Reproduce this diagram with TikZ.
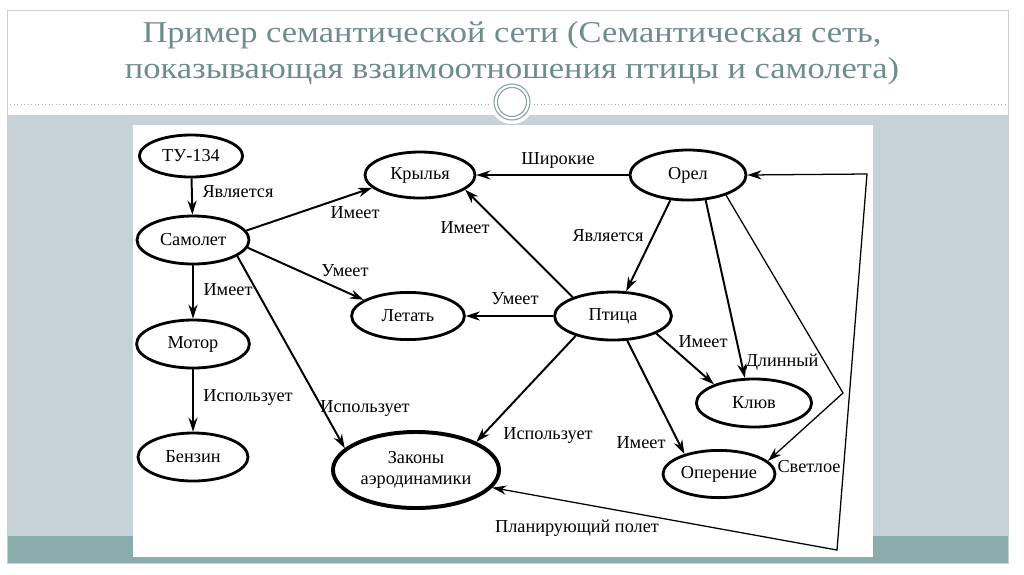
\documentclass[tikz,border=0pt]{standalone}
\usepackage{fontspec}
\setmainfont{Liberation Serif}
\newfontfamily\titlefont[FakeStretch=1.14]{Liberation Serif}
\usetikzlibrary{shapes.geometric}
\usetikzlibrary{arrows.meta}
\definecolor{bandgray}{HTML}{C7D2D8}
\definecolor{bandteal}{HTML}{8BACAC}
\definecolor{titlegray}{HTML}{6F8C8C}
\definecolor{framegray}{HTML}{C9D0D0}

\begin{document}
\begin{tikzpicture}[x=0.025cm, y=-0.025cm,
    >={Stealth[length=10pt,width=6.5pt]},
    concept/.style={ellipse, draw, line width=2pt, inner sep=0pt, align=center,
        font=\fontsize{13}{15}\selectfont},
    rel/.style={->, line width=1.4pt},
    thinrel/.style={line width=0.9pt},
    lbl/.style={inner sep=0pt, font=\fontsize{13}{15}\selectfont},
    headline/.style={anchor=base, text=titlegray, font=\titlefont\fontsize{21.5}{25}\selectfont}]

% slide background
\useasboundingbox (0,0) rectangle (1024,574);
\fill[white] (0,0) rectangle (1024,574);
\fill[bandgray] (7,115) rectangle (1008,536);
\fill[bandteal] (7,536) rectangle (1008,563);
\draw[framegray, line width=0.6pt] (7,10) rectangle (1008,563);
\draw[gray!60, dotted, line width=0.5pt] (10,104) -- (1005,104);
\fill[white] (512,102) circle (22);
\draw[titlegray!80, line width=0.8pt] (512,102) circle (18);
\draw[titlegray!80, line width=0.8pt] (512,102) circle (14.5);
\node[headline] (title1) at (512,42) {Пример семантической сети (Семантическая сеть,};
\node[headline] (title2) at (512,78) {показывающая взаимоотношения птицы и самолета)};
\fill[white] (133,125) rectangle (873,557);

% concepts
\node[concept, minimum width=2.58cm, minimum height=1.05cm] (tu) at (191,156) {ТУ-134};
\node[concept, minimum width=2.8cm, minimum height=1.2cm] (samolet) at (193,240) {Самолет};
\node[concept, minimum width=2.82cm, minimum height=1.2cm] (motor) at (193,344) {Мотор};
\node[concept, minimum width=2.75cm, minimum height=1.2cm] (benzin) at (193,457) {Бензин};
\node[concept, minimum width=2.75cm, minimum height=1.15cm] (krylya) at (420,175) {Крылья};
\node[concept, minimum width=2.82cm, minimum height=1.18cm] (letat) at (408,316) {Летать};
\node[concept, minimum width=4.15cm, minimum height=1.9cm, line width=2.8pt] (zakony) at (416,470) {Законы\\аэродинамики};
\node[concept, minimum width=2.9cm, minimum height=1.25cm] (orel) at (688,175) {Орел};
\node[concept, minimum width=2.92cm, minimum height=1.2cm] (ptica) at (613,316) {Птица};
\node[concept, minimum width=2.88cm, minimum height=1.2cm] (kluv) at (754,403) {Клюв};
\node[concept, minimum width=2.8cm, minimum height=1.18cm] (operenie) at (719,474) {Оперение};

\coordinate (bend) at (843,393);
\coordinate (cornerB) at (837,550);
\coordinate (cornerT) at (867,174);

% relations
\draw[rel] (tu) -- (samolet);
\draw[rel] (samolet) -- (motor);
\draw[rel] (motor) -- (benzin);
\draw[rel] (samolet.10) -- (krylya.195);
\draw[rel] (samolet.-8) -- (letat.160);
\draw[rel] (samolet.-20) -- (zakony.163);
\draw[rel] (orel.west) -- (krylya.east);
\draw[rel] (ptica.155) -- (krylya.-18);
\draw[rel] (orel.235) -- (ptica.62);
\draw[rel] (ptica.west) -- (letat.east);
\draw[rel] (ptica.208) -- (zakony.25);
\draw[rel] (ptica.-22) -- (kluv.155);
\draw[rel] (ptica.-60) -- (operenie.150);
\draw[rel] (orel.-55) -- (kluv.110);
\draw[->, thinrel] (orel.-28) -- (bend) -- (operenie.15);
\draw[<->, thinrel] (zakony.-13) -- (cornerB) -- (cornerT) -- (orel.east);

% relation labels
\node[lbl] (is1) at (238,192) {Является};
\node[lbl] (has1) at (355,213) {Имеет};
\node[lbl] (can1) at (345,271) {Умеет};
\node[lbl] (has2) at (228,290) {Имеет};
\node[lbl] (uses1) at (365,408) {Использует};
\node[lbl] (uses2) at (248,397) {Использует};
\node[lbl] (wide) at (558,160) {Широкие};
\node[lbl] (has3) at (465,228) {Имеет};
\node[lbl] (is2) at (608,236) {Является};
\node[lbl] (can2) at (515,299) {Умеет};
\node[lbl] (uses3) at (548,435) {Использует};
\node[lbl] (has4) at (703,342) {Имеет};
\node[lbl] (long) at (782,362) {Длинный};
\node[lbl] (has5) at (641,443) {Имеет};
\node[lbl] (light) at (809,467) {Светлое};
\node[lbl] (glide) at (577,528) {Планирующий полет};

\end{tikzpicture}
\end{document}
